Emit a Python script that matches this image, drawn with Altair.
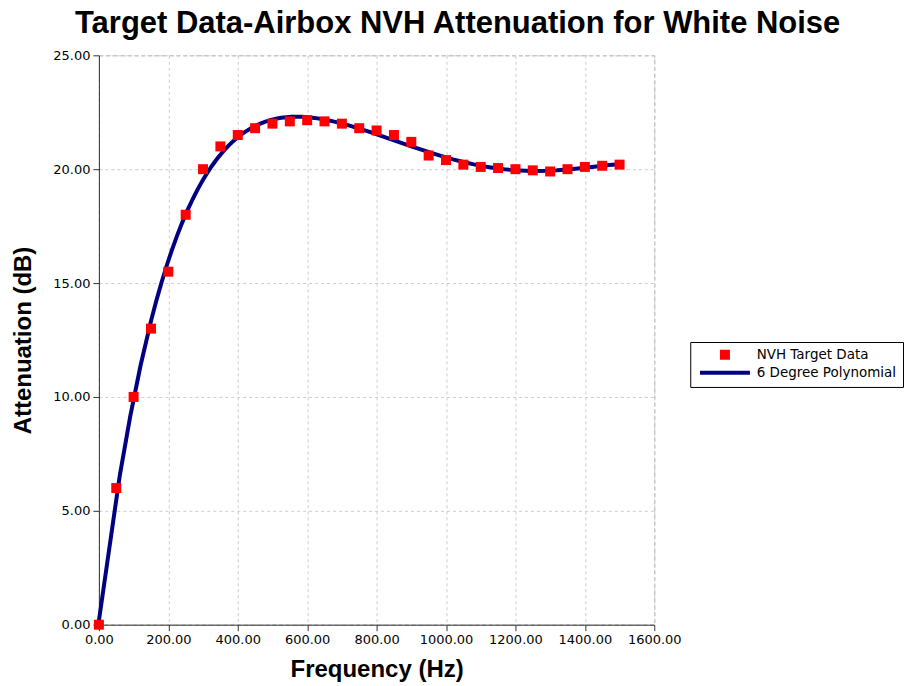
import altair as alt
import pandas as pd

freq = [0, 50, 100, 150, 200, 250, 300, 350, 400, 450, 500, 550, 600, 650, 700, 750,
        800, 850, 900, 950, 1000, 1050, 1100, 1150, 1200, 1250, 1300, 1350, 1400, 1450, 1500]
atten = [0.0, 6.0, 10.0, 13.0, 15.5, 18.0, 20.0, 21.0, 21.5, 21.8, 22.0, 22.1, 22.15, 22.1,
         22.0, 21.8, 21.7, 21.5, 21.2, 20.6, 20.4, 20.2, 20.1, 20.05, 20.0, 19.95, 19.9,
         20.0, 20.1, 20.15, 20.2]
series_names = ["NVH Target Data", "6 Degree Polynomial"]
series_colors = ["#ff0000", "#000080"]
x_ticks = [0, 200, 400, 600, 800, 1000, 1200, 1400, 1600]
y_ticks = [0, 5, 10, 15, 20, 25]

df = pd.DataFrame({"freq": freq, "atten": atten})
df["series"] = series_names[0]

is_line = "datum.value == '6 Degree Polynomial'"
color_scale = alt.Scale(domain=series_names, range=series_colors)
legend = alt.Legend(
    title=None, orient="none", legendX=592, legendY=287,
    labelFont="DejaVu Sans", labelFontSize=13.5, labelColor="#000",
    strokeColor="#000", fillColor="#fff", padding=6, cornerRadius=0,
    symbolLimit=0, labelOffset=25, symbolOffset=22, rowPadding=2,
    symbolType=alt.ExprRef(f"{is_line} ? 'stroke' : 'square'"),
    symbolSize=alt.ExprRef(f"{is_line} ? 2500 : 100"),
    symbolFillColor=alt.ExprRef(f"{is_line} ? 'transparent' : '#ff0000'"),
    symbolStrokeColor=alt.ExprRef(f"{is_line} ? '#000080' : 'transparent'"),
    symbolStrokeWidth=alt.ExprRef(f"{is_line} ? 4 : 0"), symbolOpacity=1,
)

x_enc = alt.X("freq:Q", title="Frequency (Hz)",
              scale=alt.Scale(domain=[0, 1600], nice=False),
              axis=alt.Axis(values=x_ticks, format=".2f", labelFlush=False,
                            labelOverlap=False))
y_enc = alt.Y("atten:Q", title="Attenuation (dB)",
              scale=alt.Scale(domain=[0, 25], nice=False),
              axis=alt.Axis(values=y_ticks, format=".2f", labelFlush=False,
                            labelOverlap=False))

base = alt.Chart(df)

line = base.transform_regression(
    "freq", "atten", method="poly", order=6, extent=[0, 1500]
).transform_calculate(series="'6 Degree Polynomial'").mark_line(
    strokeWidth=4, clip=False
).encode(x=x_enc, y=y_enc,
         color=alt.Color("series:N", scale=color_scale, legend=legend))

points = base.mark_point(shape="square", filled=True, size=100, opacity=1).encode(
    x=x_enc, y=y_enc,
    color=alt.Color("series:N", scale=color_scale, legend=legend))

chart = alt.layer(line, points).properties(
    width=556, height=570,
    title=alt.TitleParams(
        "Target Data-Airbox NVH Attenuation for White Noise",
        font="Liberation Sans", fontSize=31, fontWeight="bold", color="#000",
        anchor="middle", frame="bounds", offset=9),
    padding={"left": 3, "top": 0, "right": 0, "bottom": 0},
).configure_view(
    stroke="#aaaaaa", strokeDash=[4, 3], strokeWidth=1
).configure_axis(
    labelFont="DejaVu Sans", labelFontSize=13, labelColor="#000",
    titleFont="Liberation Sans", titleFontSize=24, titleFontWeight="bold",
    titleColor="#000", domainColor="#333", tickColor="#333", tickSize=6,
    grid=True, gridColor="#cccccc", gridDash=[3, 3], gridWidth=1,
    labelPadding=3,
).configure_axisY(titlePadding=17).configure_axisX(titlePadding=11)

chart.save("out.html", embed_options={"renderer": "svg", "actions": False})
